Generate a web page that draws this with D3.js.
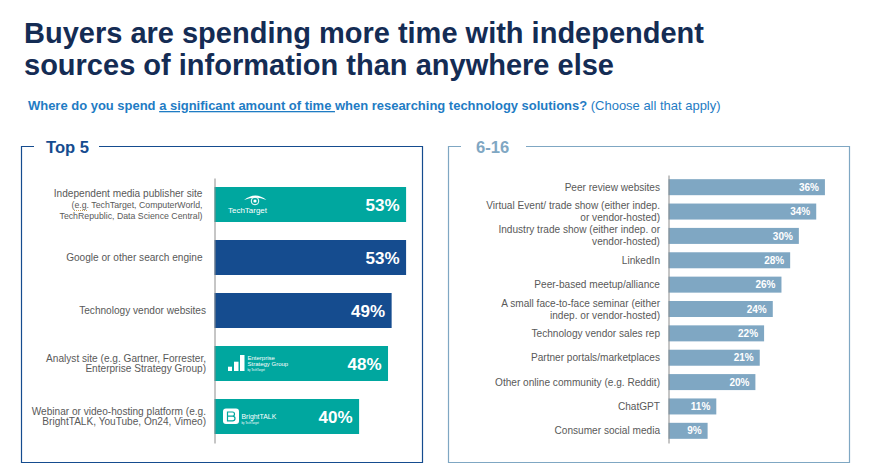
<!DOCTYPE html>
<html>
<head>
<meta charset="utf-8">
<script src="https://cdn.jsdelivr.net/npm/d3@7"></script>
<style>
  html, body { margin: 0; padding: 0; background: #fff; }
  svg { display: block; font-family: "Liberation Sans", Arial, sans-serif; }
</style>
</head>
<body>
<div id="chart"></div>
<script>
const titleLines = ['Buyers are spending more time with independent', 'sources of information than anywhere else'];

const top5Labels = [
  ['Independent media publisher site', '(e.g. TechTarget, ComputerWorld,', 'TechRepublic, Data Science Central)'],
  ['Google or other search engine'],
  ['Technology vendor websites'],
  ['Analyst site (e.g. Gartner, Forrester,', 'Enterprise Strategy Group)'],
  ['Webinar or video-hosting platform (e.g.', 'BrightTALK, YouTube, On24, Vimeo)']
];
const top5Values = [53, 53, 49, 48, 40];
const top5Logos = ['techtarget', null, null, 'esg', 'brighttalk'];

const restLabels = [
  ['Peer review websites'],
  ['Virtual Event/ trade show (either indep.', 'or vendor-hosted)'],
  ['Industry trade show (either indep. or', 'vendor-hosted)'],
  ['LinkedIn'],
  ['Peer-based meetup/alliance'],
  ['A small face-to-face seminar (either', 'indep. or vendor-hosted)'],
  ['Technology vendor sales rep'],
  ['Partner portals/marketplaces'],
  ['Other online community (e.g. Reddit)'],
  ['ChatGPT'],
  ['Consumer social media']
];
const restValues = [36, 34, 30, 28, 26, 24, 22, 21, 20, 11, 9];

const TEAL = '#00a79f', NAVY = '#154c8f', STEEL = '#7fa7c3', GREY = '#595959';

const svg = d3.select('#chart').append('svg').attr('width', 872).attr('height', 471);

// headline, the slide font runs narrower than Liberation so squeeze it to the same width
svg.append('g').selectAll('text').data(titleLines).enter().append('text')
  .attr('x', 24)
  .attr('y', (d, i) => 43 + i * 32)
  .attr('font-size', 30)
  .attr('font-weight', 'bold')
  .attr('fill', '#142c54')
  .attr('textLength', (d, i) => i === 0 ? 680 : 590)
  .attr('lengthAdjust', 'spacingAndGlyphs')
  .text(d => d);

const sub = svg.append('text').attr('x', 28).attr('y', 110).attr('font-size', 12.97).attr('fill', '#1f7cc4');
sub.append('tspan').attr('font-weight', 'bold').text('Where do you spend ');
sub.append('tspan').attr('font-weight', 'bold').attr('text-decoration', 'underline').text('a significant amount of time ');
sub.append('tspan').attr('font-weight', 'bold').text('when researching technology solutions? ');
sub.append('tspan').text('(Choose all that apply)');

function panel(x0, x1, gap0, gap1, color, label, labelX) {
  const y0 = 146.5, y1 = 462.5;
  svg.append('path')
    .attr('d', `M${gap0},${y0}H${x0}V${y1}H${x1}V${y0}H${gap1}`)
    .attr('fill', 'none')
    .attr('stroke', color)
    .attr('stroke-width', 1.2);
  svg.append('text')
    .attr('x', labelX).attr('y', 152.5)
    .attr('font-size', 16.6).attr('font-weight', 'bold')
    .attr('fill', color)
    .text(label);
}
panel(21.5, 422.5, 34, 99, NAVY, 'Top 5', 46);
panel(448.5, 849.5, 461, 526, STEEL, '6-16', 476);

function barChart(opts) {
  const x = d3.scaleLinear().domain([0, 100]).range([opts.x0, opts.x0 + opts.pxPerPct * 100]);
  const y = d3.scaleBand().domain(opts.labels.map((d, i) => i)).range(opts.yRange).paddingInner(opts.pad).paddingOuter(opts.pad / 2);
  const g = svg.append('g');

  g.selectAll('rect').data(opts.values).enter().append('rect')
    .attr('x', x(0))
    .attr('y', (d, i) => y(i))
    .attr('width', d => x(d) - x(0))
    .attr('height', y.bandwidth())
    .attr('fill', (d, i) => opts.color(i));

  // axis keeps only the domain line, labels go in by hand because they wrap
  const axis = g.append('g')
    .attr('transform', `translate(${x(0)},0)`)
    .call(d3.axisLeft(y).tickSize(0).tickFormat(''));
  axis.select('.domain').attr('stroke', '#8c8c8c').attr('stroke-width', 1);

  g.selectAll('text.value').data(opts.values).enter().append('text')
    .attr('class', 'value')
    .attr('x', d => x(d) - opts.valuePad)
    .attr('y', (d, i) => y(i) + y.bandwidth() / 2)
    .attr('dy', '0.36em')
    .attr('text-anchor', 'end')
    .attr('font-size', opts.valueSize)
    .attr('font-weight', 'bold')
    .attr('fill', '#fff')
    .text(d => d + '%');

  const cat = g.selectAll('text.cat').data(opts.labels).enter().append('text')
    .attr('class', 'cat')
    .attr('text-anchor', 'end')
    .attr('font-size', opts.labelSize)
    .attr('fill', GREY);
  cat.each(function (lines, i) {
    const cy = y(i) + y.bandwidth() / 2;
    d3.select(this).selectAll('tspan').data(lines).enter().append('tspan')
      .attr('x', x(0) - opts.labelPad(i))
      .attr('y', (d, j) => cy + (j - (lines.length - 1) / 2) * opts.lineHeight + opts.labelSize * 0.35)
      .attr('font-size', (d, j) => opts.lineSize ? opts.lineSize(i, j) : null)
      .text(d => d);
  });
  return { x, y };
}

const left = barChart({
  labels: top5Labels, values: top5Values,
  x0: 214.5, pxPerPct: 3.615, yRange: [178, 443], pad: 18 / 53,
  color: i => top5Logos[i] ? TEAL : NAVY,
  valuePad: 6.5, valueSize: 17,
  labelSize: 10.1, lineHeight: 10.6,
  labelPad: i => i < 2 ? 12 : 8.5,
  // the first label's last two lines are set smaller in the slide
  lineSize: (i, j) => (i === 0 && j > 0) ? 8.75 : 10.1
});

barChart({
  labels: restLabels, values: restValues,
  x0: 668.5, pxPerPct: 4.345, yRange: [175, 443], pad: 8.35 / 24.35,
  color: () => STEEL,
  valuePad: 6, valueSize: 10,
  labelSize: 10.1, lineHeight: 12,
  labelPad: () => 8.5
});

// spell-check squiggle under "e.g." in the source slide
svg.append('line')
  .attr('x1', 74).attr('x2', 88).attr('y1', 210.5).attr('y2', 210.5)
  .attr('stroke', '#b98a2e').attr('stroke-width', 0.8).attr('stroke-dasharray', '1 1');

// vendor logos
function logoAt(i) {
  return svg.append('g').attr('transform', `translate(214.5,${left.y(i)})`).attr('fill', '#fff');
}

const tt = logoAt(top5Logos.indexOf('techtarget'));
tt.append('path').attr('d', 'M29.5,13 Q41,4 52,13 Q41,8 29.5,13Z');
tt.append('circle').attr('cx', 40.5).attr('cy', 14).attr('r', 3.8).attr('fill', 'none').attr('stroke', '#fff').attr('stroke-width', 1);
tt.append('circle').attr('cx', 40.5).attr('cy', 14).attr('r', 1.6);
tt.append('text').attr('x', 13.5).attr('y', 25.5).attr('font-size', 8).attr('textLength', 39).attr('lengthAdjust', 'spacingAndGlyphs').text('TechTarget');

const esg = logoAt(top5Logos.indexOf('esg'));
[[13.5, 20.7, 4], [19.5, 15.7, 4.5], [25.5, 9, 4.5]].forEach(b => {
  esg.append('rect').attr('x', b[0]).attr('y', b[1]).attr('width', b[2]).attr('height', 25 - b[1]);
});
esg.append('text').attr('x', 33).attr('y', 14).attr('font-size', 6).text('Enterprise');
esg.append('text').attr('x', 33).attr('y', 20).attr('font-size', 6).text('Strategy Group');
esg.append('text').attr('x', 33).attr('y', 24.7).attr('font-size', 2.8).text('by TechTarget');

const bt = logoAt(top5Logos.indexOf('brighttalk'));
bt.append('rect').attr('x', 8.5).attr('y', 9.5).attr('width', 16).attr('height', 15.5).attr('rx', 3);
bt.append('path')
  .attr('d', 'M13,13 H18 Q20,13 20,15 Q20,17.2 18,17.2 Q20.5,17.2 20.5,19.4 Q20.5,21.8 18,21.8 H13 Z M13,17.2 H18')
  .attr('fill', 'none').attr('stroke', TEAL).attr('stroke-width', 1.2);
bt.append('text').attr('x', 27).attr('y', 19.7).attr('font-size', 6.9).text('BrightTALK');
bt.append('text').attr('x', 27).attr('y', 25).attr('font-size', 2.8).text('by TechTarget');
</script>
</body>
</html>
